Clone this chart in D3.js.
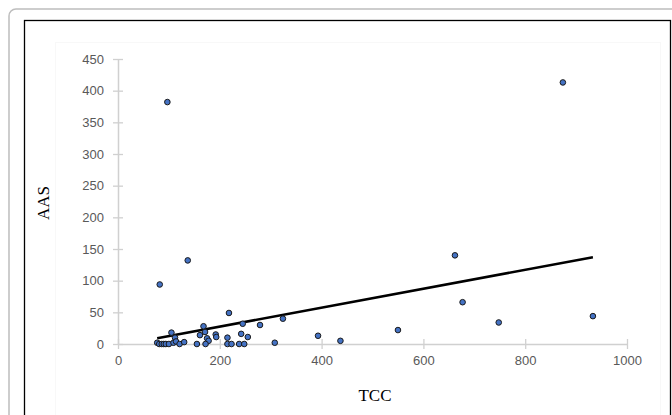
<!DOCTYPE html>
<html>
<head>
<meta charset="utf-8">
<script src="https://cdn.jsdelivr.net/npm/d3@7"></script>
<style>
html,body{margin:0;padding:0;background:#fff;}
svg{display:block;}
</style>
</head>
<body>
<svg id="chart" width="672" height="415"></svg>
<script>
// Data
const tcc = [77,81,86,90,94,100,82,97,105,109,112,114,121,130,137,155,161,168,171,175,178,172,192,193,215,218,215,223,238,248,242,255,245,279,308,324,393,437,550,662,677,748,874,933];
const aas = [2,0,0,0,0,0,94,382,18,2,10,4,0,3,132,0,14,28,19,9,5,0,15,11,10,49,0,0,0,0,16,11,32,30,2,40,13,5,22,140,66,34,413,44];
const xTicks = [0,200,400,600,800,1000];
const yTicks = [0,50,100,150,200,250,300,350,400,450];
// Linear trendline: AAS = slope*TCC + intercept, drawn over data range
const trendSlope = 0.1496;
const trendIntercept = -2.5;
const xTitle = "TCC";
const yTitle = "AAS";

const svg = d3.select("#chart");

// outer frame (grey rounded) and inner black frame
svg.append("rect").attr("x",9).attr("y",9).attr("width",700).attr("height",440)
  .attr("rx",7).attr("fill","none").attr("stroke","#bdbdbd").attr("stroke-width",1.5);
svg.append("rect").attr("x",24.5).attr("y",20.5).attr("width",646).attr("height",420)
  .attr("fill","#fff").attr("stroke","#000").attr("stroke-width",1.3);
// faint chart area border
svg.append("rect").attr("x",55.5).attr("y",42.5).attr("width",605).attr("height",380)
  .attr("fill","none").attr("stroke","#f8f8f8").attr("stroke-width",1);

const x = d3.scaleLinear().domain([0,1000]).range([118,627]);
const y = d3.scaleLinear().domain([0,450]).range([344,59]);

const axisColor = "#d0d0d0";
const tickFont = "'Liberation Sans', Arial, sans-serif";
const fmt = d3.format("d");

// Y axis
const yAxis = svg.append("g").attr("transform","translate(118,0)")
  .call(d3.axisLeft(y).tickValues(yTicks).tickFormat(fmt).tickSize(0).tickPadding(14));
yAxis.select(".domain").attr("stroke",axisColor).attr("stroke-width",1.5);
yAxis.selectAll(".tick").append("line").attr("x1",-5).attr("x2",5)
  .attr("stroke",axisColor).attr("stroke-width",1.3);
yAxis.selectAll("text").attr("fill","#595959").style("font-family",tickFont).style("font-size","13px");

// X axis
const xAxis = svg.append("g").attr("transform","translate(0,344)")
  .call(d3.axisBottom(x).tickValues(xTicks).tickFormat(fmt).tickSize(0).tickPadding(12));
xAxis.select(".domain").attr("stroke",axisColor).attr("stroke-width",1.5);
xAxis.selectAll(".tick").append("line").attr("y1",-5).attr("y2",5)
  .attr("stroke",axisColor).attr("stroke-width",1.3);
xAxis.selectAll("text").attr("fill","#595959").style("font-family",tickFont).style("font-size","13px");

// Trendline
const tx0 = d3.min(tcc), tx1 = d3.max(tcc);
svg.append("line")
  .attr("x1",x(tx0)).attr("y1",y(trendSlope*tx0+trendIntercept))
  .attr("x2",x(tx1)).attr("y2",y(trendSlope*tx1+trendIntercept))
  .attr("stroke","#000").attr("stroke-width",2.5);

// Points
const pts = tcc.map((v,i)=>({x:v,y:aas[i]}));
svg.append("g").selectAll("circle").data(pts).join("circle")
  .attr("cx",d=>x(d.x)).attr("cy",d=>y(d.y)).attr("r",2.8)
  .attr("fill","#4472C4").attr("stroke","#1a1a1a").attr("stroke-width",1);

// Axis titles
svg.append("text").attr("x",375).attr("y",401).attr("text-anchor","middle")
  .style("font-family","'Liberation Serif','Times New Roman',serif").style("font-size","17px")
  .attr("fill","#000").text(xTitle);
svg.append("text").attr("transform","translate(49,203) rotate(-90)").attr("text-anchor","middle")
  .style("font-family","'Liberation Serif','Times New Roman',serif").style("font-size","17px")
  .attr("fill","#000").text(yTitle);
</script>
</body>
</html>
